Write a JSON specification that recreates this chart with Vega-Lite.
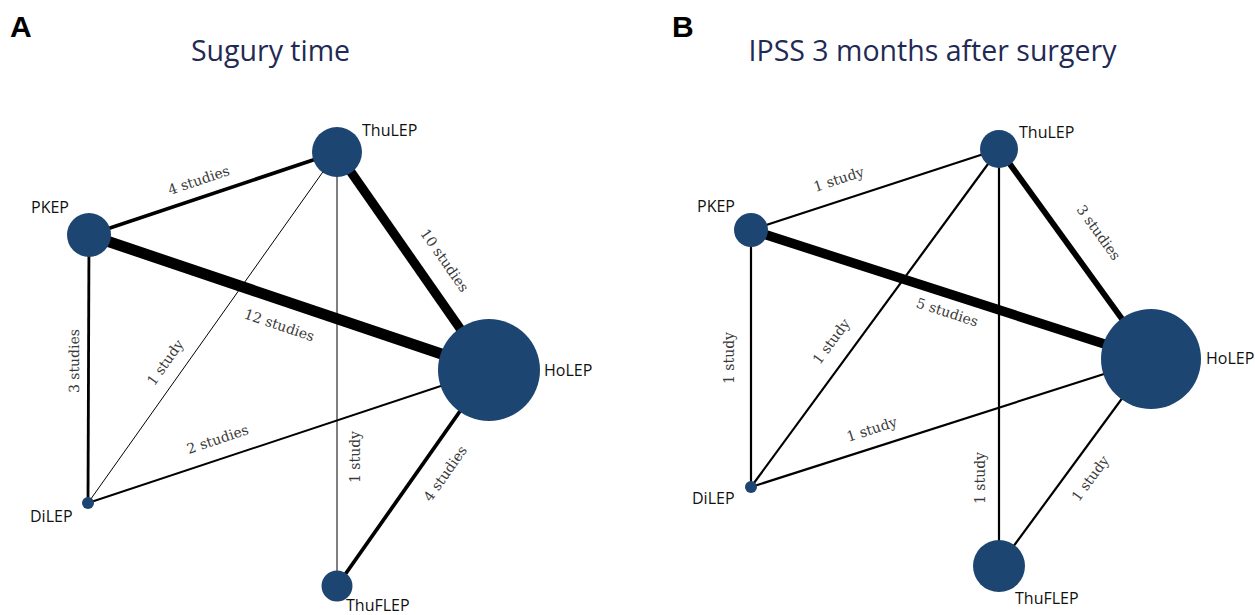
{
  "$schema": "https://vega.github.io/schema/vega-lite/v6.json",
  "width": 1255,
  "height": 615,
  "autosize": {"type": "fit", "contains": "padding"},
  "padding": 0,
  "background": "white",
  "config": {"view": {"stroke": null}},
  "datasets": {
    "nodes": [
      {"id": "A-ThuLEP", "panel": "A", "name": "ThuLEP", "x": 337, "y": 152, "n": 625, "lx": 362, "ly": 131},
      {"id": "A-PKEP", "panel": "A", "name": "PKEP", "x": 89, "y": 235, "n": 484, "lx": 31, "ly": 208},
      {"id": "A-HoLEP", "panel": "A", "name": "HoLEP", "x": 489, "y": 370, "n": 2601, "lx": 544, "ly": 371},
      {"id": "A-DiLEP", "panel": "A", "name": "DiLEP", "x": 88, "y": 503, "n": 36, "lx": 30, "ly": 517},
      {"id": "A-ThuFLEP", "panel": "A", "name": "ThuFLEP", "x": 337, "y": 586, "n": 240, "lx": 346, "ly": 606},
      {"id": "B-ThuLEP", "panel": "B", "name": "ThuLEP", "x": 999, "y": 149, "n": 361, "lx": 1019, "ly": 133},
      {"id": "B-PKEP", "panel": "B", "name": "PKEP", "x": 751, "y": 230, "n": 289, "lx": 697, "ly": 207},
      {"id": "B-HoLEP", "panel": "B", "name": "HoLEP", "x": 1151, "y": 359, "n": 2500, "lx": 1206, "ly": 359},
      {"id": "B-DiLEP", "panel": "B", "name": "DiLEP", "x": 751, "y": 487, "n": 36, "lx": 692, "ly": 499},
      {"id": "B-ThuFLEP", "panel": "B", "name": "ThuFLEP", "x": 999, "y": 566, "n": 676, "lx": 1015, "ly": 599}
    ],
    "edges": [
      {"panel": "A", "s": "A-PKEP", "t": "A-ThuLEP", "studies": 4, "label": "4 studies", "lx": 199, "ly": 181},
      {"panel": "A", "s": "A-PKEP", "t": "A-HoLEP", "studies": 12, "label": "12 studies", "lx": 279, "ly": 326},
      {"panel": "A", "s": "A-ThuLEP", "t": "A-HoLEP", "studies": 10, "label": "10 studies", "lx": 444, "ly": 261},
      {"panel": "A", "s": "A-DiLEP", "t": "A-PKEP", "studies": 3, "label": "3 studies", "lx": 75, "ly": 361},
      {"panel": "A", "s": "A-DiLEP", "t": "A-ThuLEP", "studies": 1, "label": "1 study", "lx": 166, "ly": 363},
      {"panel": "A", "s": "A-DiLEP", "t": "A-HoLEP", "studies": 2, "label": "2 studies", "lx": 218, "ly": 440},
      {"panel": "A", "s": "A-ThuFLEP", "t": "A-ThuLEP", "studies": 1, "label": "1 study", "lx": 356, "ly": 457},
      {"panel": "A", "s": "A-ThuFLEP", "t": "A-HoLEP", "studies": 4, "label": "4 studies", "lx": 446, "ly": 474},
      {"panel": "B", "s": "B-PKEP", "t": "B-ThuLEP", "studies": 1, "label": "1 study", "lx": 839, "ly": 180},
      {"panel": "B", "s": "B-PKEP", "t": "B-HoLEP", "studies": 5, "label": "5 studies", "lx": 947, "ly": 313},
      {"panel": "B", "s": "B-ThuLEP", "t": "B-HoLEP", "studies": 3, "label": "3 studies", "lx": 1098, "ly": 233},
      {"panel": "B", "s": "B-DiLEP", "t": "B-PKEP", "studies": 1, "label": "1 study", "lx": 730, "ly": 358},
      {"panel": "B", "s": "B-DiLEP", "t": "B-ThuLEP", "studies": 1, "label": "1 study", "lx": 832, "ly": 342},
      {"panel": "B", "s": "B-DiLEP", "t": "B-HoLEP", "studies": 1, "label": "1 study", "lx": 872, "ly": 430},
      {"panel": "B", "s": "B-ThuFLEP", "t": "B-ThuLEP", "studies": 1, "label": "1 study", "lx": 981, "ly": 478},
      {"panel": "B", "s": "B-ThuFLEP", "t": "B-HoLEP", "studies": 1, "label": "1 study", "lx": 1091, "ly": 479}
    ],
    "titles": [
      {"x": 270.5, "y": 61, "text": "Sugury time"},
      {"x": 932.5, "y": 61, "text": "IPSS 3 months after surgery"}
    ],
    "letters": [
      {"x": 10, "y": 37, "text": "A"},
      {"x": 672, "y": 37, "text": "B"}
    ]
  },
  "layer": [
    {
      "data": {"name": "edges"},
      "transform": [
        {"filter": "datum.panel === 'A'"},
        {"lookup": "s", "from": {"data": {"name": "nodes"}, "key": "id", "fields": ["x", "y"]}, "as": ["x1", "y1"]},
        {"lookup": "t", "from": {"data": {"name": "nodes"}, "key": "id", "fields": ["x", "y"]}, "as": ["x2", "y2"]}
      ],
      "mark": {"type": "rule", "color": "black"},
      "encoding": {
        "x": {"field": "x1", "type": "quantitative", "scale": {"domain": [0, 1255], "nice": false, "zero": false}, "axis": null},
        "y": {"field": "y1", "type": "quantitative", "scale": {"domain": [0, 615], "nice": false, "zero": false, "reverse": true}, "axis": null},
        "x2": {"field": "x2"},
        "y2": {"field": "y2"},
        "strokeWidth": {"field": "studies", "type": "quantitative", "scale": {"domain": [1, 12], "range": [1, 11]}, "legend": null}
      }
    },
    {
      "data": {"name": "edges"},
      "transform": [
        {"filter": "datum.panel === 'B'"},
        {"lookup": "s", "from": {"data": {"name": "nodes"}, "key": "id", "fields": ["x", "y"]}, "as": ["x1", "y1"]},
        {"lookup": "t", "from": {"data": {"name": "nodes"}, "key": "id", "fields": ["x", "y"]}, "as": ["x2", "y2"]}
      ],
      "mark": {"type": "rule", "color": "black"},
      "encoding": {
        "x": {"field": "x1", "type": "quantitative", "scale": {"domain": [0, 1255], "nice": false, "zero": false}, "axis": null},
        "y": {"field": "y1", "type": "quantitative", "scale": {"domain": [0, 615], "nice": false, "zero": false, "reverse": true}, "axis": null},
        "x2": {"field": "x2"},
        "y2": {"field": "y2"},
        "strokeWidth": {"field": "studies", "type": "quantitative", "scale": {"domain": [1, 5], "range": [2.2, 9.5]}, "legend": null}
      }
    },
    {
      "data": {"name": "edges"},
      "transform": [
        {"lookup": "s", "from": {"data": {"name": "nodes"}, "key": "id", "fields": ["x", "y"]}, "as": ["x1", "y1"]},
        {"lookup": "t", "from": {"data": {"name": "nodes"}, "key": "id", "fields": ["x", "y"]}, "as": ["x2", "y2"]},
        {"calculate": "atan2(datum.y2 - datum.y1, datum.x2 - datum.x1) * 180 / PI", "as": "angle"}
      ],
      "mark": {"type": "text", "font": "DejaVu Serif", "fontSize": 14, "color": "#3a3a3a", "align": "center", "baseline": "middle"},
      "encoding": {
        "x": {"field": "lx", "type": "quantitative", "scale": {"domain": [0, 1255], "nice": false, "zero": false}, "axis": null},
        "y": {"field": "ly", "type": "quantitative", "scale": {"domain": [0, 615], "nice": false, "zero": false, "reverse": true}, "axis": null},
        "text": {"field": "label"},
        "angle": {"field": "angle", "type": "quantitative", "scale": null}
      }
    },
    {
      "data": {"name": "nodes"},
      "mark": {"type": "point", "shape": "circle", "filled": true, "opacity": 1, "color": "#1d4571"},
      "encoding": {
        "x": {"field": "x", "type": "quantitative", "scale": {"domain": [0, 1255], "nice": false, "zero": false}, "axis": null},
        "y": {"field": "y", "type": "quantitative", "scale": {"domain": [0, 615], "nice": false, "zero": false, "reverse": true}, "axis": null},
        "size": {"field": "n", "type": "quantitative", "scale": {"type": "linear", "domain": [0, 2601], "range": [0, 10404], "zero": true}, "legend": null}
      }
    },
    {
      "data": {"name": "nodes"},
      "mark": {"type": "text", "font": "Open Sans", "fontSize": 16, "color": "#111111", "align": "left", "baseline": "middle"},
      "encoding": {
        "x": {"field": "lx", "type": "quantitative", "scale": {"domain": [0, 1255], "nice": false, "zero": false}, "axis": null},
        "y": {"field": "ly", "type": "quantitative", "scale": {"domain": [0, 615], "nice": false, "zero": false, "reverse": true}, "axis": null},
        "text": {"field": "name"}
      }
    },
    {
      "data": {"name": "titles"},
      "mark": {"type": "text", "font": "Open Sans", "fontSize": 28.5, "color": "#1f2a55", "align": "center", "baseline": "alphabetic"},
      "encoding": {
        "x": {"field": "x", "type": "quantitative", "scale": {"domain": [0, 1255], "nice": false, "zero": false}, "axis": null},
        "y": {"field": "y", "type": "quantitative", "scale": {"domain": [0, 615], "nice": false, "zero": false, "reverse": true}, "axis": null},
        "text": {"field": "text"}
      }
    },
    {
      "data": {"name": "letters"},
      "mark": {"type": "text", "font": "Liberation Sans", "fontWeight": "bold", "fontSize": 30, "color": "#000000", "align": "left", "baseline": "alphabetic"},
      "encoding": {
        "x": {"field": "x", "type": "quantitative", "scale": {"domain": [0, 1255], "nice": false, "zero": false}, "axis": null},
        "y": {"field": "y", "type": "quantitative", "scale": {"domain": [0, 615], "nice": false, "zero": false, "reverse": true}, "axis": null},
        "text": {"field": "text"}
      }
    }
  ],
  "resolve": {"scale": {"strokeWidth": "independent"}}
}
